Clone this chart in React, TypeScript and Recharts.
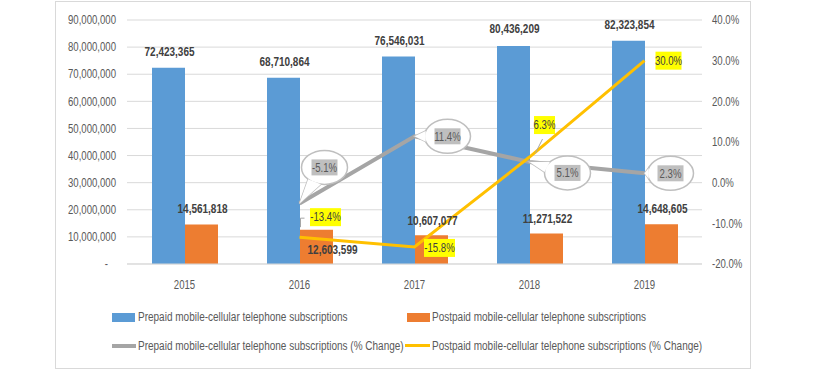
import React from 'react';
import { ComposedChart, Bar, Line, XAxis, YAxis, CartesianGrid, LabelList } from 'recharts';

const years = ['2015', '2016', '2017', '2018', '2019'];
const prepaidSubs = [72423365, 68710864, 76546031, 80436209, 82323854];
const postpaidSubs = [14561818, 12603599, 10607077, 11271522, 14648605];
const prepaidChange: (number | null)[] = [null, -0.051, 0.114, 0.051, 0.023];
const postpaidChange: (number | null)[] = [null, -0.134, -0.158, 0.063, 0.3];
const leftTicks = [0, 10000000, 20000000, 30000000, 40000000, 50000000, 60000000, 70000000, 80000000, 90000000];
const rightTicks = [-0.2, -0.1, 0, 0.1, 0.2, 0.3, 0.4];

const legendNames = [
  'Prepaid mobile-cellular telephone subscriptions',
  'Postpaid mobile-cellular telephone subscriptions',
  'Prepaid mobile-cellular telephone subscriptions (% Change)',
  'Postpaid mobile-cellular telephone subscriptions (% Change)',
];

const data = years.map((y, i) => ({
  year: y,
  prepaid: prepaidSubs[i],
  postpaid: postpaidSubs[i],
  prepaidPct: prepaidChange[i],
  postpaidPct: postpaidChange[i],
}));

// label placement (layout, not data)
const prepaidLabelOff = [[1, -16], [1, -16], [1, -16], [1, -17], [1, -16]];
const postpaidLabelOff = [[1, -16], [16, 20], [1, -15], [1, -15], [1, -16]];
const calloutOff: (number[] | null)[] = [null, [25, -36], [33, 0], [38, 11], [26, 0]];
const yellowOff: (number[] | null)[] = [null, [26, -20], [25, 1], [15, -32], [24, 0]];

const FONT = "'Liberation Sans', Arial, sans-serif";
const SX = 0.8;
const GRAY_TXT = '#595959';
const DARK_TXT = '#404040';

const fmtNum = (v: number) => v.toLocaleString('en-US');
const fmtPct = (v: number) => (v * 100).toFixed(1) + '%';

const NText = ({ x, y, anchor = 'middle', size = 12, weight = 'normal', fill = GRAY_TXT, children }: any) => (
  <g transform={`translate(${x},${y}) scale(${SX},1)`}>
    <text x={0} y={0} dy={size * 0.35} textAnchor={anchor} fontFamily={FONT} fontSize={size} fontWeight={weight} fill={fill}>
      {children}
    </text>
  </g>
);

const getBox = (p: any) => {
  const vb = p.viewBox ?? p;
  return { x: vb.x ?? p.x, y: vb.y ?? p.y, width: vb.width ?? p.width ?? 0, height: vb.height ?? p.height ?? 0 };
};

const makeBarLabel = (arr: number[], offs: number[][]) => (p: any) => {
  const idx = p.index ?? arr.indexOf(p.value);
  if (idx < 0 || p.value == null) return null;
  const b = getBox(p);
  const o = offs[idx];
  return (
    <NText x={b.x + b.width / 2 + o[0]} y={b.y + o[1]} size={12.5} weight="bold" fill={DARK_TXT}>
      {fmtNum(p.value)}
    </NText>
  );
};

const CalloutLabel = (p: any) => {
  if (p.value == null) return null;
  const idx = p.index ?? prepaidChange.indexOf(p.value);
  const off = calloutOff[idx];
  if (!off) return null;
  const b = getBox(p);
  const x = b.x, y = b.y;
  const cx = x + off[0], cy = y + off[1];
  const rx = 23, ry = 17;
  const ang = Math.atan2((y - cy) / ry, (x - cx) / rx);
  const sp = 0.32;
  const b1 = [cx + rx * Math.cos(ang - sp), cy + ry * Math.sin(ang - sp)];
  const b2 = [cx + rx * Math.cos(ang + sp), cy + ry * Math.sin(ang + sp)];
  const tail = `M${b1[0]},${b1[1]} L${x},${y} L${b2[0]},${b2[1]} Z`;
  return (
    <g>
      <path d={tail} fill="#fff" stroke="#BFBFBF" strokeWidth={1.5} />
      <ellipse cx={cx} cy={cy} rx={rx} ry={ry} fill="#fff" stroke="#BFBFBF" strokeWidth={1.5} />
      <path d={tail} fill="#fff" stroke="none" />
      <rect x={cx - 13} y={cy - 8} width={26} height={16} fill="#BFBFBF" />
      <NText x={cx} y={cy} size={12} fill={GRAY_TXT}>
        {fmtPct(p.value)}
      </NText>
    </g>
  );
};

const YellowLabel = (p: any) => {
  if (p.value == null) return null;
  const idx = p.index ?? postpaidChange.indexOf(p.value);
  const off = yellowOff[idx];
  if (!off) return null;
  const b = getBox(p);
  const x = b.x, y = b.y;
  const cx = x + off[0], cy = y + off[1];
  const txt = fmtPct(p.value);
  const w = txt.length * 5.0 + 1;
  let leader = null;
  if (idx === 1) {
    leader = <path d={`M${x + 1},${y - 10} L${x + 1},${y - 19} L${x + 5},${y - 19}`} fill="none" stroke="#A6A6A6" strokeWidth={1} />;
  } else if (idx === 3) {
    leader = <path d={`M${x + 13},${y - 18} L${x + 6},${y - 4}`} fill="none" stroke="#A6A6A6" strokeWidth={1} />;
  }
  return (
    <g>
      {leader}
      <rect x={cx - w / 2} y={cy - 9} width={w} height={18} fill="#FFFF00" />
      <NText x={cx} y={cy} size={12} fill={DARK_TXT}>
        {txt}
      </NText>
    </g>
  );
};

const LeftTick = (p: any) => {
  const v = p.payload.value;
  return (
    <NText x={v === 0 ? p.x - 8 : p.x} y={p.y} anchor="end">
      {v === 0 ? '-' : fmtNum(v)}
    </NText>
  );
};

const RightTick = (p: any) => (
  <NText x={p.x} y={p.y} anchor="start">
    {fmtPct(p.payload.value)}
  </NText>
);

const XTick = (p: any) => (
  <NText x={p.x} y={p.y + 7} anchor="middle">
    {p.payload.value}
  </NText>
);

const legendText: React.CSSProperties = {
  position: 'absolute',
  fontFamily: FONT,
  fontSize: 12.5,
  color: GRAY_TXT,
  whiteSpace: 'nowrap',
  lineHeight: '14px',
  transform: `scaleX(${SX})`,
  transformOrigin: 'left center',
};

export default function App() {
  return (
    <div style={{ position: 'absolute', left: 0, top: 0, width: 816, height: 372, background: '#fff' }}>
      <div
        style={{
          position: 'absolute',
          left: 55,
          top: 1,
          width: 694,
          height: 366,
          border: '1px solid #D9D9D9',
        }}
      />
      <div style={{ position: 'absolute', left: 0, top: 0 }}>
        <ComposedChart
          width={816}
          height={372}
          data={data}
          margin={{ top: 20, right: 0, left: 0, bottom: 78 }}
          barGap={0}
        >
          <CartesianGrid vertical={false} stroke="#D9D9D9" strokeWidth={1} />
          <XAxis
            dataKey="year"
            height={30}
            axisLine={{ stroke: '#D9D9D9' }}
            tickLine={false}
            tickMargin={8}
            tick={<XTick />}
          />
          <YAxis
            width={127}
            domain={[0, 90000000]}
            ticks={leftTicks}
            axisLine={false}
            tickLine={false}
            tickMargin={5}
            tick={<LeftTick />}
          />
          <YAxis
            yAxisId="right"
            orientation="right"
            width={114}
            domain={[-0.2, 0.4]}
            ticks={rightTicks}
            axisLine={false}
            tickLine={false}
            tickMargin={4}
            tick={<RightTick />}
          />
          <Bar dataKey="prepaid" fill="#5B9BD5" barSize={33} isAnimationActive={false}>
            <LabelList dataKey="prepaid" content={makeBarLabel(prepaidSubs, prepaidLabelOff)} />
          </Bar>
          <Bar dataKey="postpaid" fill="#ED7D31" barSize={33} isAnimationActive={false}>
            <LabelList dataKey="postpaid" content={makeBarLabel(postpaidSubs, postpaidLabelOff)} />
          </Bar>
          <Line
            yAxisId="right"
            dataKey="prepaidPct"
            stroke="#A5A5A5"
            strokeWidth={4}
            dot={false}
            activeDot={false}
            isAnimationActive={false}
          >
            <LabelList dataKey="prepaidPct" content={<CalloutLabel />} />
          </Line>
          <Line
            yAxisId="right"
            dataKey="postpaidPct"
            stroke="#FFC000"
            strokeWidth={3}
            dot={false}
            activeDot={false}
            isAnimationActive={false}
          >
            <LabelList dataKey="postpaidPct" content={<YellowLabel />} />
          </Line>
        </ComposedChart>
      </div>
      {/* legend */}
      <div style={{ position: 'absolute', left: 112, top: 313, width: 23, height: 9, background: '#5B9BD5' }} />
      <div style={{ ...legendText, left: 138, top: 310 }}>{legendNames[0]}</div>
      <div style={{ position: 'absolute', left: 407, top: 313, width: 23, height: 9, background: '#ED7D31' }} />
      <div style={{ ...legendText, left: 432, top: 310 }}>{legendNames[1]}</div>
      <div style={{ position: 'absolute', left: 112, top: 344, width: 24, height: 4, background: '#A5A5A5' }} />
      <div style={{ ...legendText, left: 138, top: 339 }}>{legendNames[2]}</div>
      <div style={{ position: 'absolute', left: 405, top: 344, width: 25, height: 3, background: '#FFC000' }} />
      <div style={{ ...legendText, left: 432, top: 339 }}>{legendNames[3]}</div>
    </div>
  );
}
